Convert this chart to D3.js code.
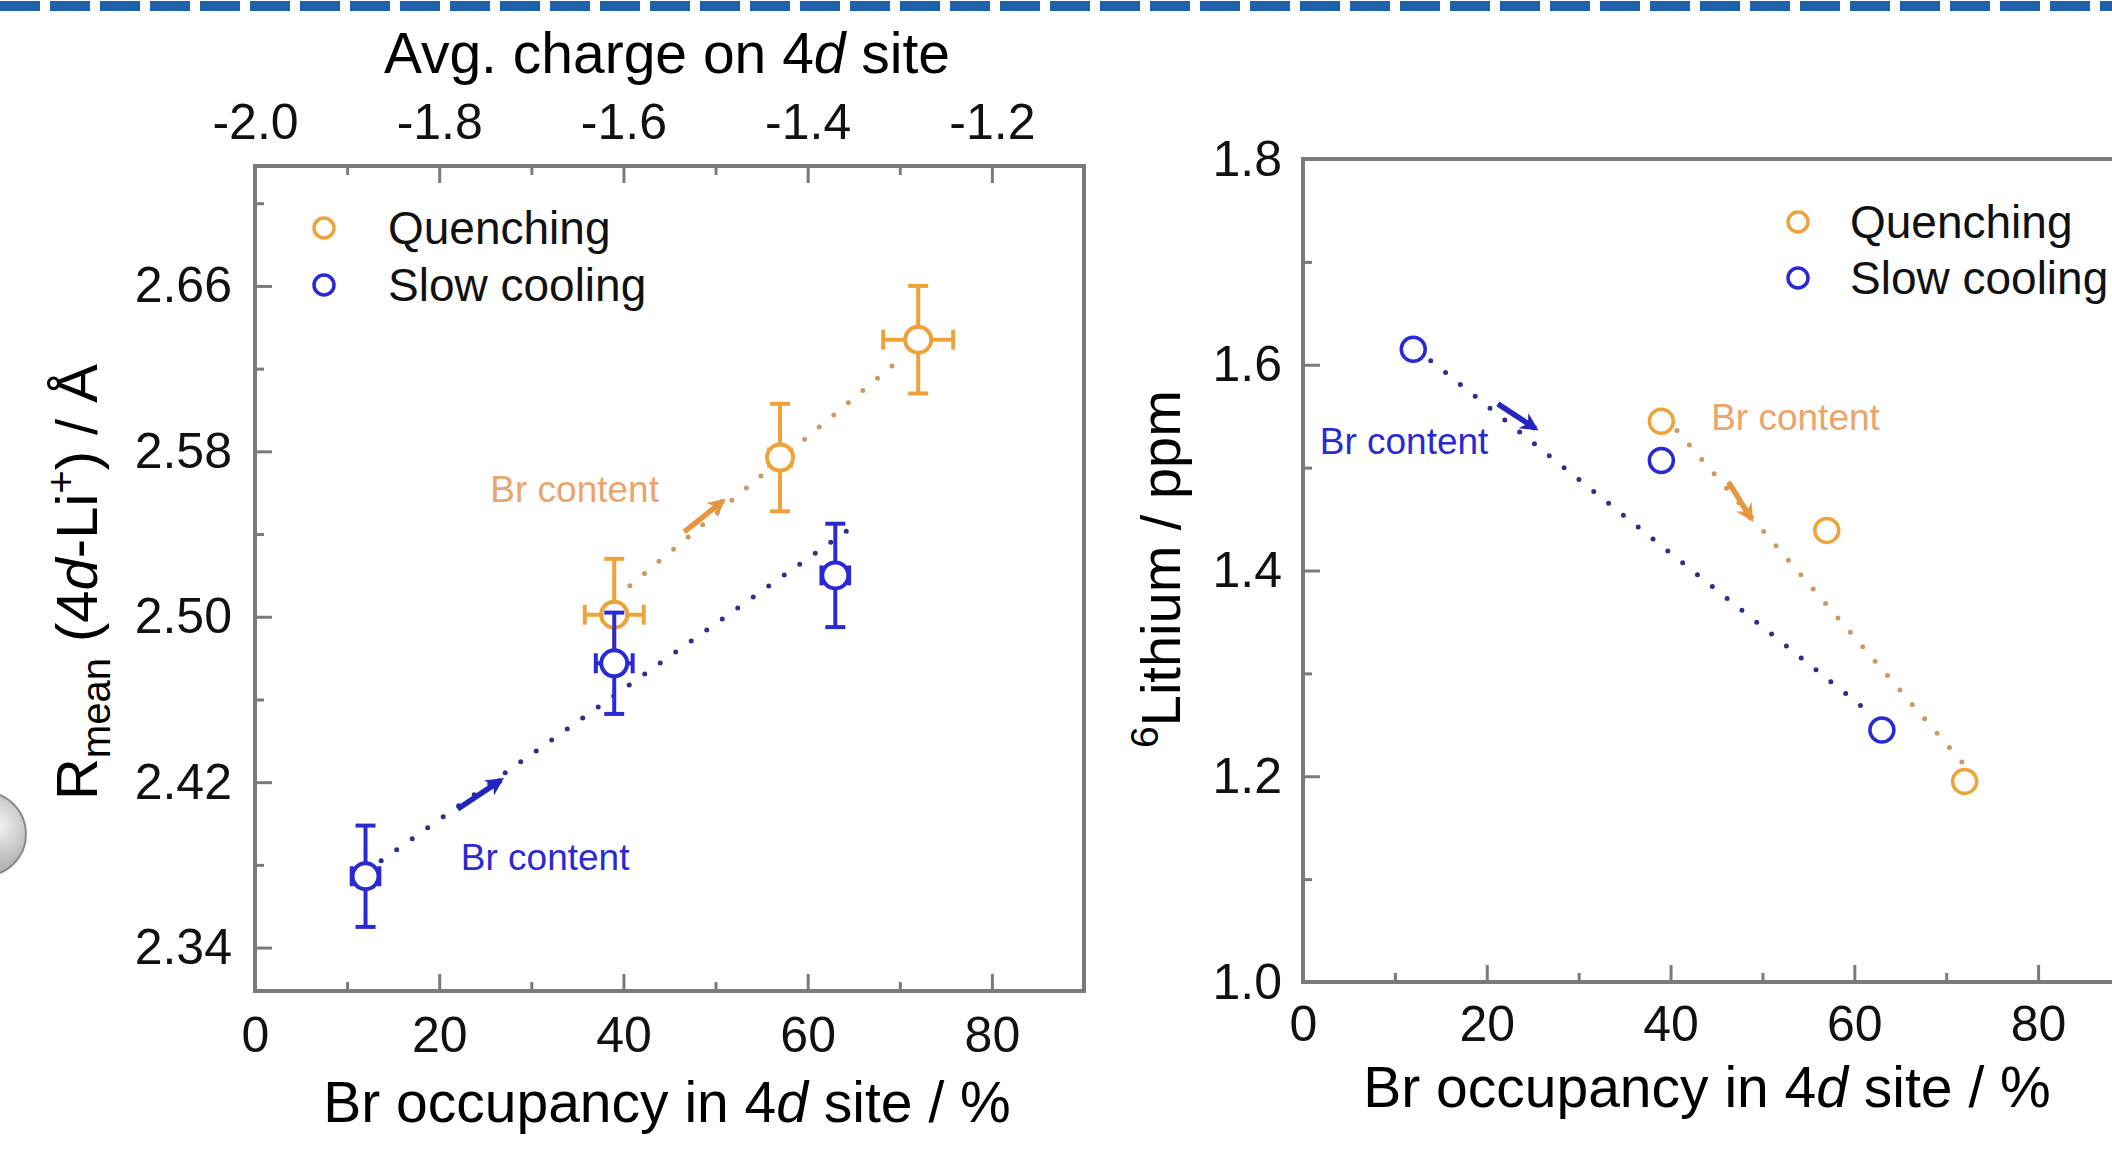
<!DOCTYPE html>
<html lang="en">
<head>
  <meta charset="UTF-8">
  <title>Br occupancy vs Rmean and 6Li shift</title>
  <style>
    body { margin: 0; background: #fff; }
    svg { display: block; font-family: "Liberation Sans", Arial, sans-serif; }
  </style>
</head>
<body>
  <div id="chart"></div>

  <script src="https://d3js.org/d3.v7.min.js"></script>
  <script>

    // --- data ---
    // left panel: Rmean(4d-Li+) vs Br occupancy
    const quenchOcc    = [39, 57, 72];
    const quenchOccErr = [3.2, 1.2, 3.8];
    const quenchR      = [2.501, 2.577, 2.634];
    const quenchRErr   = [0.027, 0.026, 0.026];

    const slowOcc    = [12, 39, 63];
    const slowOccErr = [1.5, 2.0, 1.5];
    const slowR      = [2.3745, 2.4775, 2.520];
    const slowRErr   = [0.0245, 0.0245, 0.025];

    // right panel: 6Li shift vs Br occupancy
    const quenchLi = [1.545, 1.439, 1.195];
    const slowLi   = [1.615, 1.507, 1.245];

    // dotted guide lines and "Br content" arrows (data units)
    const quenchRTrend  = [[40.7, 2.515], [70.7, 2.627]];
    const slowRTrend    = [[13.7, 2.382], [64.7, 2.543]];
    const quenchLiTrend = [[40.7, 1.536], [73.7, 1.193]];
    const slowLiTrend   = [[13.9, 1.604], [61.2, 1.265]];

    const quenchRArrow  = [[46.6, 2.541], [50.8, 2.556]];
    const slowRArrow    = [[22.0, 2.407], [26.7, 2.421]];
    const quenchLiArrow = [[46.3, 1.486], [48.8, 1.450]];
    const slowLiArrow   = [[21.2, 1.562], [25.3, 1.538]];

    const quenchRNote  = [34.7, 2.562];
    const slowRNote    = [31.5, 2.384];
    const quenchLiNote = [53.6, 1.549];
    const slowLiNote   = [11.0, 1.526];

    // ticks
    const occTicks      = [0, 20, 40, 60, 80];
    const occMinor      = [10, 30, 50, 70];
    const chargeTicks   = [-2.0, -1.8, -1.6, -1.4, -1.2];
    const chargeMinor   = [-1.9, -1.7, -1.5, -1.3];
    const rTicks        = [2.34, 2.42, 2.50, 2.58, 2.66];
    const rMinor        = [2.38, 2.46, 2.54, 2.62, 2.70];
    const liTicks       = [1.0, 1.2, 1.4, 1.6, 1.8];
    const liMinor       = [1.1, 1.3, 1.5, 1.7];

    const seriesNames = ["Quenching", "Slow cooling"];

    // --- layout ---
    const width = 2112, height = 1152;
    const L = {left: 255, right: 1084, top: 166, bottom: 991};
    const R = {left: 1303, right: 2130, top: 159, bottom: 982};

    const orange = "#f0a23a", blue = "#2a2ad4";
    const orangeDots = "#c99a62", blueDots = "#2e2e8c";
    const frameColor = "#7a7a7a";

    const svg = d3.select("#chart")
      .append("svg")
      .attr("width", width)
      .attr("height", height)
      .attr("viewBox", [0, 0, width, height]);

    const defs = svg.append("defs");
    [["arrow-orange", "#e6963e"], ["arrow-blue", "#2424c0"]].forEach(([id, c]) => {
      defs.append("marker")
        .attr("id", id)
        .attr("viewBox", "0 0 10 10")
        .attr("refX", 8).attr("refY", 5)
        .attr("markerWidth", 24).attr("markerHeight", 18)
        .attr("markerUnits", "userSpaceOnUse")
        .attr("orient", "auto")
        .append("path")
        .attr("d", "M0,0 L10,5 L0,10 L3,5 Z")
        .attr("fill", c);
    });
    const grad = defs.append("radialGradient").attr("id", "ball")
      .attr("cx", "65%").attr("cy", "40%").attr("r", "70%");
    grad.append("stop").attr("offset", "0%").attr("stop-color", "#f4f4f4");
    grad.append("stop").attr("offset", "100%").attr("stop-color", "#9a9a9a");

    // dashed banner on top and the cut-off sphere from the neighbouring panel
    svg.append("line")
      .attr("x1", 0).attr("x2", width).attr("y1", 6).attr("y2", 6)
      .attr("stroke", "#1d62ab").attr("stroke-width", 10)
      .attr("stroke-dasharray", "40 10");
    svg.append("circle")
      .attr("cx", -16).attr("cy", 834).attr("r", 42)
      .attr("fill", "url(#ball)").attr("stroke", "#8a8a8a").attr("stroke-width", 2);

    // --- scales ---
    const xL = d3.scaleLinear([0, 90], [L.left, L.right]);
    const chargeX = d3.scaleLinear([-2.0, -1.1], [L.left, L.right]);
    const yL = d3.scaleLinear([2.319, 2.718], [L.bottom, L.top]);
    const xR = d3.scaleLinear([0, 90], [R.left, R.right]);
    const yR = d3.scaleLinear([1.0, 1.8], [R.bottom, R.top]);

    function axis(gen, transform, values, fmt, size, pad) {
      const g = svg.append("g")
        .attr("transform", transform)
        .call(gen.tickValues(values).tickFormat(fmt)
          .tickSizeInner(-size).tickSizeOuter(0).tickPadding(pad));
      g.select(".domain").remove();
      g.selectAll("line").attr("stroke", frameColor).attr("stroke-width", 3);
      g.selectAll("text").attr("font-size", 50).attr("fill", "#111")
        .attr("font-family", "Liberation Sans, Arial, sans-serif");
      return g;
    }

    // ---------- left panel ----------
    axis(d3.axisBottom(xL), `translate(0,${L.bottom})`, occTicks, d => d, 17, 25);
    axis(d3.axisBottom(xL), `translate(0,${L.bottom})`, occMinor, "", 9, 0);
    axis(d3.axisTop(chargeX), `translate(0,${L.top})`, chargeTicks, d => d.toFixed(1), 17, 27);
    axis(d3.axisTop(chargeX), `translate(0,${L.top})`, chargeMinor, "", 9, 0);
    axis(d3.axisLeft(yL), `translate(${L.left},0)`, rTicks, d => d.toFixed(2), 17, 23);
    axis(d3.axisLeft(yL), `translate(${L.left},0)`, rMinor, "", 9, 0);

    svg.append("rect")
      .attr("x", L.left).attr("y", L.top)
      .attr("width", L.right - L.left).attr("height", L.bottom - L.top)
      .attr("fill", "none").attr("stroke", frameColor).attr("stroke-width", 4);

    const lineL = d3.line().x(d => xL(d[0])).y(d => yL(d[1]));
    const lineR = d3.line().x(d => xR(d[0])).y(d => yR(d[1]));

    function dotted(path, color) {
      svg.append("path")
        .attr("d", path)
        .attr("fill", "none")
        .attr("stroke", color)
        .attr("stroke-width", 5)
        .attr("stroke-linecap", "round")
        .attr("stroke-dasharray", "0 19");
    }
    function arrow(path, id, color) {
      svg.append("path")
        .attr("d", path)
        .attr("fill", "none")
        .attr("stroke", color)
        .attr("stroke-width", 5.5)
        .attr("marker-end", `url(#${id})`);
    }
    function note(x, y, color) {
      svg.append("text")
        .attr("x", x).attr("y", y)
        .attr("text-anchor", "middle")
        .attr("dy", "0.35em")
        .attr("font-size", 37)
        .attr("fill", color)
        .text("Br content");
    }

    dotted(lineL(quenchRTrend), orangeDots);
    dotted(lineL(slowRTrend), blueDots);
    arrow(lineL(quenchRArrow), "arrow-orange", "#e6963e");
    arrow(lineL(slowRArrow), "arrow-blue", "#2424c0");
    note(xL(quenchRNote[0]), yL(quenchRNote[1]), "#eba46c");
    note(xL(slowRNote[0]), yL(slowRNote[1]), blue);

    function errorSeries(occ, occErr, val, valErr, color) {
      const pts = occ.map((d, i) => ({x: d, xe: occErr[i], y: val[i], ye: valErr[i]}));
      const g = svg.append("g").attr("stroke", color).attr("stroke-width", 4);
      const cap = 10;
      pts.forEach(p => {
        const cx = xL(p.x), cy = yL(p.y);
        const y0 = yL(p.y - p.ye), y1 = yL(p.y + p.ye);
        const x0 = xL(p.x - p.xe), x1 = xL(p.x + p.xe);
        g.append("line").attr("x1", cx).attr("x2", cx).attr("y1", y0).attr("y2", y1);
        g.append("line").attr("x1", cx - cap).attr("x2", cx + cap).attr("y1", y0).attr("y2", y0);
        g.append("line").attr("x1", cx - cap).attr("x2", cx + cap).attr("y1", y1).attr("y2", y1);
        g.append("line").attr("x1", x0).attr("x2", x1).attr("y1", cy).attr("y2", cy);
        g.append("line").attr("x1", x0).attr("x2", x0).attr("y1", cy - cap).attr("y2", cy + cap);
        g.append("line").attr("x1", x1).attr("x2", x1).attr("y1", cy - cap).attr("y2", cy + cap);
      });
      svg.append("g")
        .selectAll("circle")
        .data(pts)
        .join("circle")
        .attr("cx", d => xL(d.x))
        .attr("cy", d => yL(d.y))
        .attr("r", 13)
        .attr("fill", "#fff")
        .attr("stroke", color)
        .attr("stroke-width", 4);
    }
    errorSeries(quenchOcc, quenchOccErr, quenchR, quenchRErr, orange);
    errorSeries(slowOcc, slowOccErr, slowR, slowRErr, blue);

    function legend(cx, tx, ys) {
      const g = svg.selectAll(null).data(seriesNames).join("g");
      g.append("circle")
        .attr("cx", cx)
        .attr("cy", (d, i) => ys[i])
        .attr("r", 10)
        .attr("fill", "#fff")
        .attr("stroke", (d, i) => i ? blue : orange)
        .attr("stroke-width", 3.5);
      g.append("text")
        .attr("x", tx)
        .attr("y", (d, i) => ys[i])
        .attr("dy", "0.35em")
        .attr("font-size", 46)
        .attr("fill", "#111")
        .text(d => d);
    }
    legend(324, 388, [228, 285]);

    // axis titles
    const topTitle = svg.append("text")
      .attr("x", 667).attr("y", 73)
      .attr("text-anchor", "middle")
      .attr("font-size", 57);
    topTitle.append("tspan").text("Avg. charge on 4");
    topTitle.append("tspan").attr("font-style", "italic").text("d");
    topTitle.append("tspan").text(" site");

    function xTitle(x, y) {
      const t = svg.append("text")
        .attr("x", x).attr("y", y)
        .attr("text-anchor", "middle")
        .attr("font-size", 57);
      t.append("tspan").text("Br occupancy in 4");
      t.append("tspan").attr("font-style", "italic").text("d");
      t.append("tspan").text(" site / %");
    }
    xTitle(667, 1122);

    const yTitleL = svg.append("text")
      .attr("transform", "translate(97,582) rotate(-90)")
      .attr("text-anchor", "middle")
      .attr("font-size", 58);
    yTitleL.append("tspan").text("R");
    yTitleL.append("tspan").attr("font-size", 40).attr("dy", 13).text("mean");
    yTitleL.append("tspan").attr("dy", -13).text(" (4");
    yTitleL.append("tspan").attr("font-style", "italic").text("d");
    yTitleL.append("tspan").text("-Li");
    yTitleL.append("tspan").attr("font-size", 40).attr("dy", -22).text("+");
    yTitleL.append("tspan").attr("dy", 22).text(") / Å");

    // ---------- right panel ----------
    axis(d3.axisBottom(xR), `translate(0,${R.bottom})`, occTicks, d => d, 17, 23);
    axis(d3.axisBottom(xR), `translate(0,${R.bottom})`, occMinor, "", 9, 0);
    axis(d3.axisLeft(yR), `translate(${R.left},0)`, liTicks, d => d.toFixed(1), 17, 21);
    axis(d3.axisLeft(yR), `translate(${R.left},0)`, liMinor, "", 9, 0);

    svg.append("rect")
      .attr("x", R.left).attr("y", R.top)
      .attr("width", R.right - R.left).attr("height", R.bottom - R.top)
      .attr("fill", "none").attr("stroke", frameColor).attr("stroke-width", 4);

    dotted(lineR(quenchLiTrend), orangeDots);
    dotted(lineR(slowLiTrend), blueDots);
    arrow(lineR(quenchLiArrow), "arrow-orange", "#e6963e");
    arrow(lineR(slowLiArrow), "arrow-blue", "#2424c0");
    note(xR(quenchLiNote[0]), yR(quenchLiNote[1]), "#eba46c");
    note(xR(slowLiNote[0]), yR(slowLiNote[1]), blue);

    [[quenchOcc, quenchLi, orange], [slowOcc, slowLi, blue]].forEach(([xs, ys, c]) => {
      svg.append("g")
        .selectAll("circle")
        .data(xs.map((d, i) => [d, ys[i]]))
        .join("circle")
        .attr("cx", d => xR(d[0]))
        .attr("cy", d => yR(d[1]))
        .attr("r", 12)
        .attr("fill", "#fff")
        .attr("stroke", c)
        .attr("stroke-width", 3.5);
    });

    legend(1798, 1850, [222, 278]);

    xTitle(1707, 1107);

    const yTitleR = svg.append("text")
      .attr("transform", "translate(1180,569) rotate(-90)")
      .attr("text-anchor", "middle")
      .attr("font-size", 56);
    yTitleR.append("tspan").attr("font-size", 39).attr("dy", -22).text("6");
    yTitleR.append("tspan").attr("dy", 22).text("Lithium / ppm");

  </script>
</body>
</html>
